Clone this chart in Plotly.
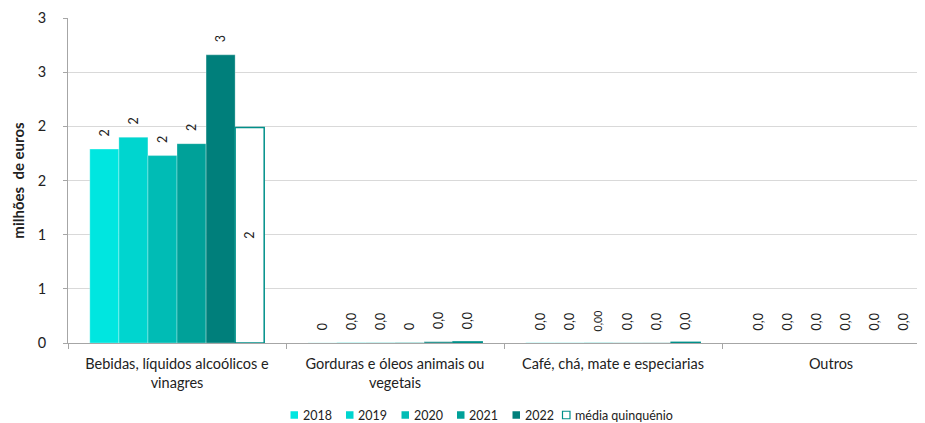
import plotly.graph_objects as go

categories = ["Bebidas, líquidos alcoólicos e<br>vinagres",
              "Gorduras e óleos animais ou<br>vegetais",
              "Café, chá, mate e especiarias",
              "Outros"]

series_names = ["2018", "2019", "2020", "2021", "2022", "média quinquénio"]

v2018 = [1.79, 0.001, 0.002, 0.0]
v2019 = [1.90, 0.003, 0.002, 0.0]
v2020 = [1.73, 0.003, 0.003, 0.0]
v2021 = [1.84, 0.004, 0.002, 0.0]
v2022 = [2.66, 0.012, 0.002, 0.0]
vmedia = [1.99, 0.010, 0.006, 0.0]

t2018 = ["2", "0", "0,0", "0,0"]
t2019 = ["2", "0,0", "0,0", "0,0"]
t2020 = ["2", "0,0", "0,00", "0,0"]
t2021 = ["2", "0", "0,0", "0,0"]
t2022 = ["3", "0,0", "0,0", "0,0"]
tmedia = ["2", "0,0", "0,0", "0,0"]

ytick_vals = [0, 0.5, 1, 1.5, 2, 2.5, 3]
ytick_text = ["0", "1", "1", "2", "2", "3", "3"]

colors = ["#00E6E0", "#00D5CF", "#00BCB5", "#00A199", "#007F7B"]
media_color = "#00908A"
FONT = "Lato, Open Sans, sans-serif"
TXT = "#222222"

# figure size (page body has an 8px margin)
FW, FH = 917, 415
# plot-area geometry (px, figure coords)
L, R, T, B = 60, 915, 10, 335

fig = go.Figure()
vals = [v2018, v2019, v2020, v2021, v2022]
texts = [t2018, t2019, t2020, t2021, t2022]
for name, v, t, c in zip(series_names[:5], vals, texts, colors):
    fig.add_trace(go.Bar(
        name=name, x=categories, y=v, text=t,
        texttemplate="\u00a0\u00a0\u00a0%{text}",
        textposition="outside", textangle=-90,
        textfont=dict(size=12.5, color=TXT, family=FONT),
        marker=dict(color=c, line=dict(color="rgba(255,255,255,0.5)", width=0.6)),
        cliponaxis=False, showlegend=False,
    ))

fig.add_trace(go.Bar(
    name=series_names[5], x=categories, y=vmedia, text=tmedia,
    texttemplate=["%{text}", "\u00a0\u00a0\u00a0%{text}", "\u00a0\u00a0\u00a0%{text}", "\u00a0\u00a0\u00a0%{text}"],
    textposition=["inside", "outside", "outside", "outside"],
    textangle=-90, insidetextanchor="middle",
    textfont=dict(size=12.5, color=TXT, family=FONT),
    insidetextfont=dict(size=12.5, color=TXT, family=FONT),
    outsidetextfont=dict(size=12.5, color=TXT, family=FONT),
    marker=dict(color="white", line=dict(color=media_color, width=[1.5, 1.5, 1.5, 0])),
    cliponaxis=False, showlegend=False,
))

# legend drawn by hand (compact Excel style)
W = R - L
H = B - T
def px(x):
    return (x - L) / W
def py(y):
    return (B - y) / H

leg_x = [282.5, 338, 393.5, 449, 504.5, 554.5]
leg_y = 407
sq = 7.5
for i, (name, x0) in enumerate(zip(series_names, leg_x)):
    if i < 5:
        fig.add_shape(type="rect", xref="paper", yref="paper",
                      x0=px(x0), x1=px(x0 + sq), y0=py(leg_y + sq / 2), y1=py(leg_y - sq / 2),
                      fillcolor=colors[i], line=dict(width=0))
    else:
        fig.add_shape(type="rect", xref="paper", yref="paper",
                      x0=px(x0), x1=px(x0 + sq), y0=py(leg_y + sq / 2), y1=py(leg_y - sq / 2),
                      fillcolor="white", line=dict(width=1.2, color=media_color))
    fig.add_annotation(xref="paper", yref="paper", x=px(x0 + sq + 2.5), y=py(leg_y),
                       text=name, showarrow=False, xanchor="left", yanchor="middle",
                       font=dict(size=12.5, family=FONT, color=TXT))

fig.update_layout(
    width=FW, height=FH,
    margin=dict(l=L, r=FW - R, t=T, b=FH - B),
    paper_bgcolor="white", plot_bgcolor="white",
    barmode="group", bargap=0.2, bargroupgap=0,
    font=dict(family=FONT, size=14, color=TXT),
    showlegend=False,
    xaxis=dict(range=[-0.5, 3.422], showline=True, linecolor="#A6A6A6", linewidth=1,
               ticks="outside", tickson="boundaries", ticklen=5, tickcolor="#A6A6A6",
               ticklabelstandoff=8,
               tickfont=dict(size=14.5, family=FONT, color=TXT), showgrid=False,
               automargin=False),
    yaxis=dict(range=[0, 3], tickvals=ytick_vals, ticktext=ytick_text,
               showline=True, linecolor="#A6A6A6", linewidth=1,
               ticks="outside", ticklen=4, tickcolor="#A6A6A6",
               ticklabelstandoff=14,
               gridcolor="#D9D9D9", gridwidth=1, zeroline=False,
               tickfont=dict(size=14.5, family=FONT, color=TXT),
               automargin=False,
               title=dict(text="<b>milhões  de euros</b>", standoff=9,
                          font=dict(size=15, family=FONT, color=TXT))),
)

fig.write_html("out.html")
